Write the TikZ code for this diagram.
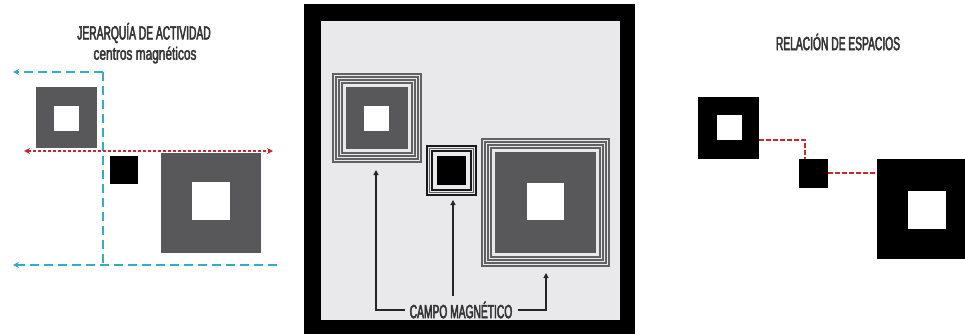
\documentclass[tikz,border=0pt]{standalone}
\usepackage{fontspec}
\usetikzlibrary{arrows.meta}
\newfontfamily\condcaps[FakeStretch=0.54,FakeBold=2.5]{Liberation Sans}
\newfontfamily\condlow[FakeStretch=0.66,FakeBold=2.2]{Liberation Sans}
\definecolor{sqgray}{HTML}{58585B}
\definecolor{bglight}{HTML}{E9E9EB}
\definecolor{ringgray}{HTML}{616163}
\definecolor{txtgray}{HTML}{333335}
\definecolor{bluedash}{HTML}{3AA8C8}
\definecolor{reddot}{HTML}{C9282E}
\tikzset{
  sq/.style={rectangle, inner sep=0pt, outer sep=0pt, minimum width=#1, minimum height=#1},
  graysq/.style={sq=#1, fill=sqgray},
  whitesq/.style={sq=#1, fill=white},
  blacksq/.style={sq=#1, fill=black},
  ring/.style={draw=ringgray, line width=1.7pt},
  darkring/.style={draw=black!90, line width=1.7pt},
  captext/.style={font=\condcaps\fontsize{19}{22}\selectfont, text=txtgray, inner sep=1pt},
  lowtext/.style={font=\condlow\fontsize{18}{21}\selectfont, text=txtgray, inner sep=1pt},
  bluel/.style={draw=bluedash, line width=1.6pt, dash pattern=on 9pt off 5pt},
  redl/.style={draw=reddot, line width=1.6pt, dash pattern=on 3pt off 2pt},
  redd/.style={draw=reddot, line width=1.5pt, dash pattern=on 5pt off 2pt},
  callout/.style={draw=black!85, line width=1.5pt},
}
\begin{document}
\begin{tikzpicture}[x=1pt, y=-1pt]
\useasboundingbox (0,0) rectangle (965,334);
\begin{scope}
\clip (0,0) rectangle (965,334);
% ---------------- left panel ----------------
\node[captext] (lt1) at (144,33) {JERARQUÍA DE ACTIVIDAD};
\node[lowtext] (lt2) at (145,55) {centros magnéticos};
\node[graysq=61pt] (L1) at (66.5,117.5) {};
\node[whitesq=25pt] (L1w) at (66.5,118.5) {};
\node[blacksq=28pt] (L2) at (124,170) {};
\node[graysq=100pt] (L3) at (211,203) {};
\node[whitesq=38pt] (L3w) at (211,201) {};
\coordinate (bTL) at (13,72);
\coordinate (bTC) at (103,72);
\coordinate (bBC) at (103,265);
\coordinate (bBL) at (13,265);
\coordinate (bBR) at (277,265);
\coordinate (rL) at (24,151);
\coordinate (rR) at (273,151);
\draw[bluel, -{Stealth[length=6pt,width=6pt]}] (bTC) -- (bTL);
\draw[bluel] (bTC) -- (bBC);
\draw[bluel, -{Stealth[length=6pt,width=6pt]}] (bBR) -- (bBL);
\draw[redl, {Stealth[length=6pt,width=6pt]}-{Stealth[length=6pt,width=6pt]}] (rL) -- (rR);
% ---------------- middle panel ----------------
\fill[black] (304,4) rectangle (635,334);
\fill[bglight] (321,21) rectangle (620,320);
% M1
\node[sq=90pt] (M1) at (377,118) {};
\foreach \d in {0.9,4,7,10.3} {
  \draw[ring] ([shift={(\d,\d)}]M1.north west) rectangle ([shift={(-\d,-\d)}]M1.south east);
}
\node[graysq=62pt] (M1g) at (377,118) {};
\node[whitesq=25pt] (M1w) at (376.5,118.5) {};
% M2
\node[sq=51pt] (M2) at (451.5,170.5) {};
\draw[darkring] ([shift={(0.9,0.9)}]M2.north west) rectangle ([shift={(-0.9,-0.9)}]M2.south east);
\draw[ring] ([shift={(3.6,3.6)}]M2.north west) rectangle ([shift={(-3.6,-3.6)}]M2.south east);
\draw[darkring] ([shift={(6.2,6.2)}]M2.north west) rectangle ([shift={(-6.2,-6.2)}]M2.south east);
\node[blacksq=29pt] (M2b) at (451.5,170.5) {};
% M3
\node[sq=129pt] (M3) at (545.5,202.5) {};
\foreach \d in {0.9,4,7,10.3} {
  \draw[ring] ([shift={(\d,\d)}]M3.north west) rectangle ([shift={(-\d,-\d)}]M3.south east);
}
\node[graysq=101pt] (M3g) at (545.5,202.5) {};
\node[whitesq=37pt] (M3w) at (545.5,201.5) {};
% callout
\node[captext, inner sep=5pt] (cm) at (461,310) {CAMPO MAGNÉTICO};
\coordinate (a1) at (376,170);
\coordinate (a2) at (453,200);
\coordinate (a3) at (546,273);
\draw[callout, -{Triangle[length=5pt,width=5pt]}] (cm.west) -| (a1);
\draw[callout, -{Triangle[length=5pt,width=5pt]}] (cm.north -| a2) -- (a2);
\draw[callout, -{Triangle[length=5pt,width=5pt]}] (cm.east) -| (a3);
% ---------------- right panel ----------------
\node[captext] (rt) at (838,42) {RELACIÓN DE ESPACIOS};
\node[blacksq=61pt] (R1) at (728.5,128) {};
\node[whitesq=25pt] (R1w) at (729,127.5) {};
\node[blacksq=29pt] (R2) at (813.5,173) {};
\node[blacksq=100pt] (R3) at (927,209) {};
\node[whitesq=38pt] (R3w) at (927,209.5) {};
\coordinate (rc) at (805,140);
\draw[redd] (R1.east |- rc) -- (rc) -- (rc |- R2.north);
\draw[redd] (R2.east) -- (R2.east -| R3.west);
\end{scope}
\end{tikzpicture}
\end{document}
